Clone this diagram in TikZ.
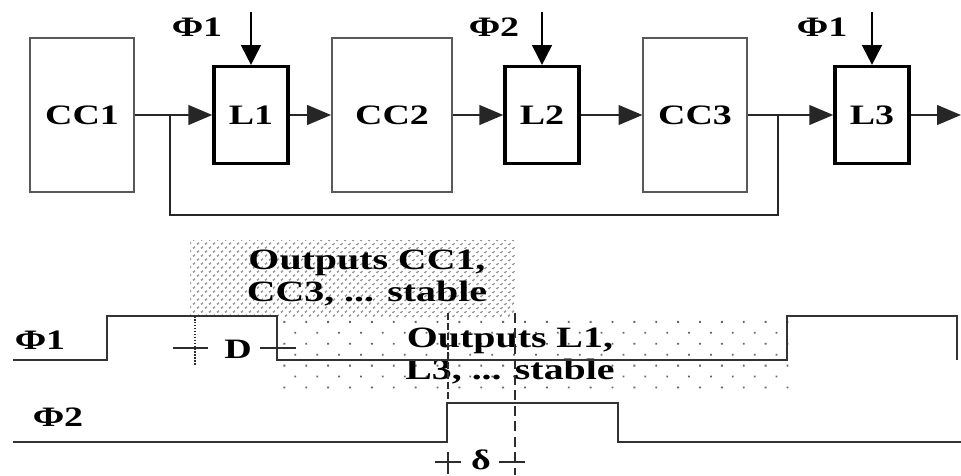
\documentclass[tikz,border=0pt]{standalone}
\usepackage{fontspec}
\setmainfont{Liberation Serif}[FakeStretch=1.35]
\usepackage{tikz}
\usetikzlibrary{arrows.meta,positioning,patterns.meta}

\begin{document}
\begin{tikzpicture}[x=0.025cm, y=-0.025cm, font=\fontsize{20}{23}\selectfont\bfseries,
  >={Triangle[length=17pt,width=14pt]},
  cc/.style={draw=gray!70!black, line width=1.3pt, minimum width=#1, minimum height=3.83cm, inner sep=0pt},
  latch/.style={draw, line width=2.4pt, minimum width=1.85cm, minimum height=2.42cm, inner sep=0pt},
  wire/.style={line width=1.4pt, black!85},
  clk/.style={line width=1.4pt, -{Triangle[length=14pt,width=14pt]}},
  wave/.style={line width=1.5pt, gray!40!black},
  tick/.style={line width=1.1pt, gray!35!black},
  lab/.style={inner sep=0pt, align=center}]
  \useasboundingbox (0,0) rectangle (961,475);
  % combinational blocks and latches
  \node[cc=2.58cm] (cc1) at (82,115) {CC1};
  \node[latch] (l1) at (251,115) {L1};
  \node[cc=3.0cm] (cc2) at (392,115) {CC2};
  \node[latch] (l2) at (542,115) {L2};
  \node[cc=2.58cm] (cc3) at (695,115) {CC3};
  \node[latch] (l3) at (872,115) {L3};
  % clock inputs
  \node[lab] (p1a) at (197,27) {Φ1};
  \node[lab] (p2a) at (494,27) {Φ2};
  \node[lab] (p1b) at (822,27) {Φ1};
  \draw[clk] (l1.north) ++(0,-53) -- (l1.north);
  \draw[clk] (l2.north) ++(0,-53) -- (l2.north);
  \draw[clk] (l3.north) ++(0,-53) -- (l3.north);
  % data path
  \coordinate (out) at (961,115);
  \draw[wire,->] (cc1) -- (l1); \draw[wire,->] (l1) -- (cc2); \draw[wire,->] (cc2) -- (l2);
  \draw[wire,->] (l2) -- (cc3); \draw[wire,->] (cc3) -- (l3); \draw[wire,->] (l3) -- (out);
  % feedback
  \coordinate (j1) at (170,115); \coordinate (j3) at (778,115);
  \draw[wire] (j1) -- ++(0,100) -| (j3);
  % stable windows
  \fill[pattern={Dots[distance=4pt,angle=45,radius=0.8pt]}, pattern color=gray!80!black] (190,240) rectangle (515,317);
  \fill[pattern={Dots[distance=11pt,angle=45,radius=0.9pt]}, pattern color=gray!80!black] (277,317) rectangle (792,390);
  \node[lab, font=\fontsize{21}{23}\selectfont\bfseries] (stcc) at (367,278) {Outputs CC1,\\CC3, ... stable};
  \node[lab, font=\fontsize{21}{23}\selectfont\bfseries] (stl) at (510,356) {Outputs L1,\\L3, ... stable};
  % clock waveforms
  \node[lab] (ph1) at (40,340) {Φ1};
  \node[lab] (ph2) at (58,417) {Φ2};
  \draw[wave] (13,360) -- (107,360) -- (107,316) -- (277,316) -- (277,360) -- (787,360) -- (787,316) -- (957,316) -- (957,360);
  \draw[wave] (13,442) -- (447,442) -- (447,403) -- (618,403) -- (618,442) -- (961,442);
  % D and delta
  \draw[tick, densely dotted] (195,316) -- (195,366);
  \draw[tick] (173,348) -- (208,348);
  \node[lab] (dd) at (238,349) {D};
  \draw[tick] (260,348) -- (296,348);
  \draw[tick, dash pattern=on 5pt off 2pt] (448,313) -- (448,403);
  \draw[tick, dash pattern=on 7pt off 4pt] (515,313) -- (515,475);
  \draw[tick] (435,462) -- (461,462) (448,452) -- (448,474);
  \node[lab] (dl) at (481,460) {δ};
  \draw[tick] (499,462) -- (525,462);
\end{tikzpicture}
\end{document}
